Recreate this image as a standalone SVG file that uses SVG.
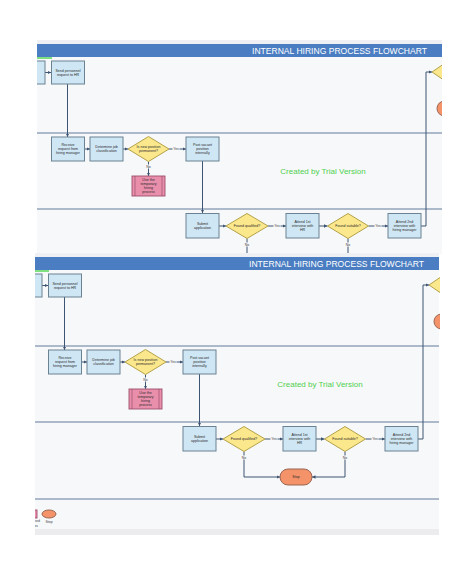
<svg xmlns="http://www.w3.org/2000/svg" xmlns:xlink="http://www.w3.org/1999/xlink" width="474" height="576" viewBox="0 0 474 576">
<style>
.bg{fill:#f7f8fa}
.hdr{fill:#4a7dc2}
.hdrt{font-family:"Liberation Sans",Arial,sans-serif;font-size:9px;fill:#ffffff;text-anchor:middle}
.lane{stroke:#93a5bb;stroke-width:1.6}
.box{fill:#cfe7f4;stroke:#6a8292;stroke-width:1}
.dia{fill:#fbe78c;stroke:#b3a24a;stroke-width:1}
.pink{fill:#e98fab;stroke:#9c4f6a;stroke-width:0.9}
.stop{fill:#f4936a;stroke:#9a6552;stroke-width:1}
.conn{fill:none;stroke:#3d5573;stroke-width:1}
.t{font-family:"Liberation Sans",Arial,sans-serif;font-size:3.6px;fill:#2a2a2a;text-anchor:middle}
.lbl{font-family:"Liberation Sans",Arial,sans-serif;font-size:3.5px;fill:#444;text-anchor:middle}
.lblbg{fill:#f7f8fa}
.wm{font-family:"Liberation Sans",Arial,sans-serif;font-size:8px;fill:#4fd04f;text-anchor:middle}
</style>
<defs>
<marker id="arr" viewBox="0 0 4 4" refX="4" refY="2" markerWidth="3.5" markerHeight="3.5" markerUnits="userSpaceOnUse" orient="auto">
<path d="M0,0 L4,2 L0,4 z" fill="#3d5573"/>
</marker>
<clipPath id="clip1"><rect x="37" y="40" width="405" height="214"/></clipPath>
<clipPath id="clip2"><rect x="35" y="253" width="405" height="282"/></clipPath>
</defs>
<rect x="0" y="0" width="474" height="576" fill="#ffffff"/>
<g clip-path="url(#clip1)">
<g id="chart">
<rect class="bg" x="37" y="40" width="405" height="282"/>
<rect x="37" y="40" width="405" height="4" fill="#eef0f3"/>
<rect x="37" y="316" width="405" height="6" fill="#ececef"/>
<rect class="hdr" x="37" y="44" width="405" height="13"/>
<text class="hdrt" x="339.5" y="53.5" textLength="175" lengthAdjust="spacingAndGlyphs">INTERNAL HIRING PROCESS FLOWCHART</text>
<rect x="37" y="57" width="15" height="2" fill="#7fe07f"/>
<g id="lanes">
<line class="lane" x1="37" y1="133" x2="442" y2="133"/>
<line class="lane" x1="37" y1="209" x2="442" y2="209"/>
<line class="lane" x1="37" y1="286" x2="442" y2="286"/>
</g>
<text class="wm" x="323" y="174">Created by Trial Version</text>
<g id="connectors">
<path class="conn" d="M45 72.5 H51" marker-end="url(#arr)"/>
<path class="conn" d="M67.5 84 V137" marker-end="url(#arr)"/>
<path class="conn" d="M84 149 H90" marker-end="url(#arr)"/>
<path class="conn" d="M123 149 H128" marker-end="url(#arr)"/>
<path class="conn" d="M169 149 H186" marker-end="url(#arr)"/>
<path class="conn" d="M148.5 161.5 V176" marker-end="url(#arr)"/>
<path class="conn" d="M202.5 161 V213" marker-end="url(#arr)"/>
<path class="conn" d="M219 226 H226" marker-end="url(#arr)"/>
<path class="conn" d="M268 226 H286" marker-end="url(#arr)"/>
<path class="conn" d="M319 226 H327.5" marker-end="url(#arr)"/>
<path class="conn" d="M368.5 226 H388" marker-end="url(#arr)"/>
<path class="conn" d="M421 226 H426 V72 H432" marker-end="url(#arr)"/>
<path class="conn" d="M247 238.5 V264 H283" marker-end="url(#arr)"/>
<path class="conn" d="M348 238.5 V264 H315" marker-end="url(#arr)"/>
<rect class="lblbg" x="172.5" y="147" width="7" height="4"/>
<text class="lbl" x="176" y="150.2">Yes</text>
<rect class="lblbg" x="145.5" y="164.5" width="6" height="4"/>
<text class="lbl" x="148.5" y="167.7">No</text>
<rect class="lblbg" x="273.5" y="224" width="7" height="4"/>
<text class="lbl" x="277" y="227.2">Yes</text>
<rect class="lblbg" x="374.5" y="224" width="7" height="4"/>
<text class="lbl" x="378" y="227.2">Yes</text>
<rect class="lblbg" x="244" y="242.5" width="6" height="4"/>
<text class="lbl" x="247" y="245.7">No</text>
<rect class="lblbg" x="345" y="242.5" width="6" height="4"/>
<text class="lbl" x="348" y="245.7">No</text>
</g>
<g id="n-prev"><rect class="box" x="12" y="61" width="33" height="23"/></g>
<g id="n-send"><rect class="box" x="51.5" y="61" width="33" height="23"/>
<text class="t" x="68" y="71.5">Send personnel</text><text class="t" x="68" y="75.5">request to HR</text></g>
<g id="n-receive"><rect class="box" x="51.5" y="137" width="33" height="24"/>
<text class="t" x="68" y="145.8">Receive</text><text class="t" x="68" y="149.8">request from</text><text class="t" x="68" y="153.8">hiring manager</text></g>
<g id="n-determine"><rect class="box" x="90" y="137" width="33" height="24"/>
<text class="t" x="106.5" y="148">Determine job</text><text class="t" x="106.5" y="152">classification</text></g>
<g id="n-permanent"><path class="dia" d="M148.5 136.5 L169 149 L148.5 161.5 L128 149 Z"/>
<text class="t" x="148.5" y="148">Is new position</text><text class="t" x="148.5" y="152">permanent?</text></g>
<g id="n-post"><rect class="box" x="186" y="137" width="33" height="24"/>
<text class="t" x="202.5" y="145.8">Post vacant</text><text class="t" x="202.5" y="149.8">position</text><text class="t" x="202.5" y="153.8">internally</text></g>
<g id="n-temp"><rect class="pink" x="132" y="176" width="33" height="20"/>
<line x1="135" y1="176" x2="135" y2="196" stroke="#9c4f6a" stroke-width="0.7"/>
<line x1="162" y1="176" x2="162" y2="196" stroke="#9c4f6a" stroke-width="0.7"/>
<text class="t" x="148.5" y="180.8">Use the</text><text class="t" x="148.5" y="184.7">temporary</text><text class="t" x="148.5" y="188.6">hiring</text><text class="t" x="148.5" y="192.5">process</text></g>
<g id="n-submit"><rect class="box" x="186" y="213.5" width="33" height="24.5"/>
<text class="t" x="202.5" y="224.8">Submit</text><text class="t" x="202.5" y="228.8">application</text></g>
<g id="n-qualified"><path class="dia" d="M247 213.5 L268 226 L247 238.5 L226 226 Z"/>
<text class="t" x="247" y="227.2">Found qualified?</text></g>
<g id="n-int1"><rect class="box" x="286" y="213.5" width="33" height="24.5"/>
<text class="t" x="302.5" y="222.6">Attend 1st</text><text class="t" x="302.5" y="226.6">interview with</text><text class="t" x="302.5" y="230.6">HR</text></g>
<g id="n-suitable"><path class="dia" d="M348 213.5 L368.5 226 L348 238.5 L327.5 226 Z"/>
<text class="t" x="348" y="227.2">Found suitable?</text></g>
<g id="n-int2"><rect class="box" x="388" y="213.5" width="33" height="24.5"/>
<text class="t" x="404.5" y="222.6">Attend 2nd</text><text class="t" x="404.5" y="226.6">interview with</text><text class="t" x="404.5" y="230.6">hiring manager</text></g>
<g id="n-offer"><path class="dia" d="M451 59 L470 72 L451 85 L432 72 Z"/></g>
<g id="n-end"><circle class="stop" cx="444.5" cy="108.5" r="7.5"/></g>
<g id="n-stop"><rect class="stop" x="283" y="256" width="32" height="16" rx="8"/>
<text class="t" x="299" y="265.2">Stop</text></g>
<g id="legend">
<rect class="pink" x="33" y="297" width="7" height="8"/>
<ellipse class="stop" cx="52" cy="301" rx="7" ry="4"/>
<text class="lbl" x="52" y="310">Stop</text>
<text class="lbl" x="40" y="309">ned</text>
<text class="lbl" x="39" y="314">ss</text>
</g>
</g>
</g>
<g clip-path="url(#clip2)">
<use xlink:href="#chart" href="#chart" transform="translate(-3,213)"/>
</g>
</svg>
